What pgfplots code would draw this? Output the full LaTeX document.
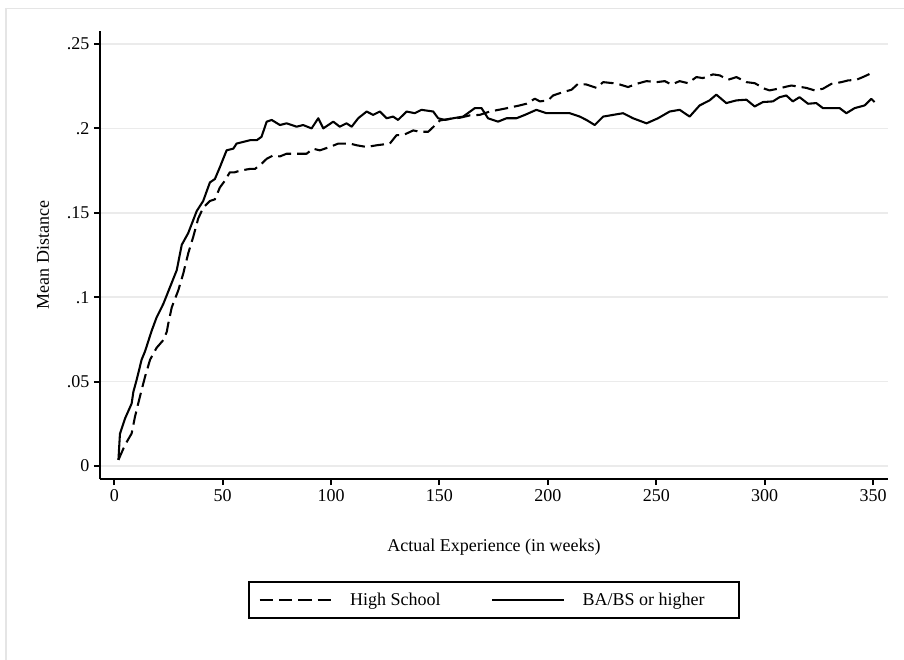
\documentclass[border=0pt]{standalone}
\usepackage{fontspec}
\setmainfont{Liberation Serif}
\usepackage{pgfplots}
\pgfplotsset{compat=1.18}
\newcommand{\fs}{\fontsize{13.5}{16}\selectfont}
\begin{document}
\begin{tikzpicture}
\clip (0,0) rectangle (678pt,-495pt);
\fill[white] (0,0) rectangle (678pt,-495pt);
\draw[black!10, line width=1pt] (4.5pt,-6.4pt) rectangle (720pt,-540pt);
\begin{axis}[
  at={(75pt,-359.25pt)}, anchor=south west,
  width=591pt, height=336pt, scale only axis,
  xmin=-6.6, xmax=356.9, ymin=-0.0077, ymax=0.2577,
  axis lines=left,
  axis line style={-, line width=1.5pt, black},
  xtick={0,50,100,150,200,250,300,350},
  ytick={0,0.05,0.1,0.15,0.2,0.25},
  yticklabels={0,.05,.1,.15,.2,.25},
  tick style={black, line width=1.5pt},
  tick align=outside, major tick length=4.5pt,
  ymajorgrids, grid style={black!8, line width=1.3pt},
  tick label style={font=\fs},
  /pgf/number format/assume math mode=true,
  xlabel={Actual Experience (in weeks)},
  ylabel={Mean Distance},
  label style={font=\fs},
  xlabel style={at={(axis description cs:0.5,-0.152)}, anchor=center},
  ylabel style={at={(axis description cs:-0.0723,0.5)}, anchor=center},
  legend columns=2,
  legend image code/.code={\draw[#1] (0pt,0pt) -- (54pt,0pt);},
  legend style={at={(axis description cs:0.5,-0.27)}, anchor=center,
    draw=black, line width=1.5pt, inner xsep=7pt, inner ysep=8pt,
    font=\fs, nodes={inner sep=0pt},
    /tikz/every even column/.append style={column sep=38pt},
    /tikz/every odd column/.append style={column sep=13pt}},
]
\addplot[black, line width=1.55pt, line join=round, dash pattern=on 10pt off 4.5pt] table {
1.9 0.0036
4.9 0.0124
8.0 0.0193
9.5 0.029
11.8 0.041
14.2 0.053
16.5 0.063
19.5 0.070
22.6 0.0746
24.2 0.0795
24.9 0.0844
26.5 0.094
29.5 0.104
31.8 0.114
34.1 0.126
36.4 0.1357
38.7 0.1466
41.0 0.1530
44.1 0.157
46.4 0.158
48.7 0.165
51.0 0.169
53.3 0.174
55.6 0.174
58.0 0.175
62.6 0.176
64.9 0.176
67.9 0.179
70.3 0.182
73.3 0.184
76.4 0.1834
79.5 0.185
84.1 0.185
88.7 0.185
91.7 0.188
94.8 0.187
99.4 0.189
103.3 0.191
108.7 0.191
111.8 0.190
116.4 0.189
121.0 0.190
127.1 0.191
130.2 0.196
133.2 0.196
137.9 0.1988
140.9 0.198
144.8 0.198
147.1 0.2008
150.2 0.2047
154.8 0.2057
159.4 0.2063
164.0 0.2077
168.6 0.208
173.2 0.2100
180.1 0.2117
187.0 0.2136
190.1 0.2146
194.0 0.2176
196.3 0.216
200.1 0.2166
202.4 0.2195
207.0 0.2215
210.9 0.2229
213.9 0.2264
217.8 0.226
222.4 0.224
225.5 0.2274
230.1 0.2268
233.2 0.226
237.0 0.2245
240.9 0.2264
245.5 0.228
250.1 0.2274
253.9 0.228
257.0 0.226
260.8 0.228
264.6 0.2268
268.5 0.2304
271.5 0.2298
276.2 0.232
279.3 0.2314
283.1 0.2288
287.0 0.2304
291.6 0.2274
295.4 0.2268
300.0 0.2235
302.3 0.2225
306.1 0.2235
309.2 0.2245
312.3 0.2254
315.4 0.2248
319.2 0.224
323.1 0.2225
326.9 0.2235
330.8 0.2264
335.4 0.2274
338.4 0.2284
342.3 0.2288
345.3 0.2304
349.2 0.2327
350.5 0.232
};
\addlegendentry{High School}
\addplot[black, line width=1.55pt, line join=round] table {
1.9 0.0036
2.6 0.019
4.9 0.028
8.0 0.037
8.8 0.044
10.3 0.051
12.6 0.063
14.2 0.068
17.2 0.080
19.5 0.088
22.6 0.096
25.7 0.106
28.8 0.116
31.1 0.131
34.1 0.138
38.0 0.151
41.0 0.157
44.1 0.168
46.4 0.170
48.7 0.177
51.8 0.187
54.9 0.188
56.4 0.191
59.5 0.192
62.6 0.193
65.7 0.193
67.9 0.195
70.3 0.204
72.6 0.205
76.4 0.202
79.5 0.203
84.1 0.201
87.1 0.202
91.0 0.200
94.1 0.206
96.4 0.200
101.0 0.204
104.0 0.201
107.1 0.203
109.5 0.201
112.5 0.206
116.4 0.210
119.4 0.208
122.5 0.210
125.6 0.206
128.6 0.207
130.9 0.205
134.8 0.210
138.6 0.209
141.7 0.211
147.1 0.210
149.4 0.206
152.5 0.205
156.3 0.206
160.9 0.207
166.3 0.212
169.4 0.212
172.4 0.206
177.0 0.204
180.9 0.206
185.5 0.206
189.4 0.208
194.7 0.211
199.4 0.209
206.3 0.209
210.1 0.209
214.7 0.207
217.8 0.205
221.6 0.202
225.5 0.207
230.1 0.208
234.7 0.209
239.3 0.206
245.5 0.203
250.8 0.206
256.2 0.210
260.8 0.211
265.4 0.207
270.0 0.2136
274.6 0.2166
277.7 0.220
282.3 0.215
287.0 0.2166
291.6 0.217
295.4 0.213
299.2 0.2156
303.8 0.216
306.9 0.2185
310.0 0.2195
313.0 0.216
316.1 0.2185
320.0 0.2146
323.8 0.215
326.9 0.212
334.6 0.212
337.7 0.209
341.5 0.212
346.1 0.2136
349.2 0.2175
350.7 0.2156
};
\addlegendentry{\makebox[110pt][l]{BA/BS or higher}}
\end{axis}
\end{tikzpicture}
\end{document}
